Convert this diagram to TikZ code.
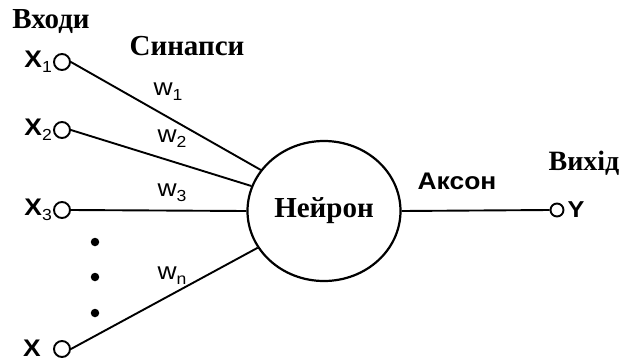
\documentclass[tikz,border=0pt]{standalone}
\usepackage{fontspec}
\usetikzlibrary{shapes.geometric}
\setmainfont{Liberation Serif}
\setsansfont{Liberation Sans}
\newcommand{\hs}[1]{\scalebox{1.1}[1]{#1}}
\newcommand{\lowsub}[1]{\raisebox{-0.4ex}{\mdseries\fontsize{16}{16}\selectfont #1}}
\begin{document}
\begin{tikzpicture}[x=1pt,y=-1pt,
  inport/.style={circle,draw,line width=1.9pt,minimum size=16pt,inner sep=0pt},
  outport/.style={circle,draw,line width=1.9pt,minimum size=13pt,inner sep=0pt},
  xlab/.style={anchor=east,font=\sffamily\bfseries\fontsize{24}{24}\selectfont,inner sep=1pt},
  wlab/.style={font=\sffamily\fontsize{24}{24}\selectfont,inner sep=0pt},
  title/.style={font=\bfseries\fontsize{29}{29}\selectfont,inner sep=0pt},
  wire/.style={line width=1.9pt},
  dotmark/.style={circle,fill,minimum size=8.5pt,inner sep=0pt}]
\useasboundingbox (0,0) rectangle (622,360);
\node[ellipse,draw,line width=2.2pt,minimum width=153pt,minimum height=140pt,inner sep=0pt,
  font=\bfseries\fontsize{29}{29}\selectfont] (n) at (324,211) {Нейрон};
\node[inport] (x1) at (62,62) {};
\node[inport] (x2) at (62,130) {};
\node[inport] (x3) at (62,210) {};
\node[inport] (xn) at (62,349) {};
\node[outport] (y) at (557,210) {};
\node[xlab] (lx1) at (x1.west) {\hs{X\lowsub{1}}};
\node[xlab] (lx2) at (x2.west) {\hs{X\lowsub{2}}};
\node[xlab] (lx3) at (x3.west) {\hs{X\lowsub{3}}};
\node[anchor=center,font=\sffamily\bfseries\fontsize{24}{24}\selectfont,inner sep=0pt] (lxn) at (32,348) {\hs{X}};
\node[anchor=west,font=\sffamily\bfseries\fontsize{23}{23}\selectfont,inner sep=3pt] (ly) at (y.east) {\hs{Y}};
\draw[wire] (x1.east) -- (n.147);
\draw[wire] (x2.east) -- (n.161);
\draw[wire] (x3.east) -- (n.180);
\draw[wire] (xn.east) -- (n.209);
\draw[wire] (n.east) -- (y.west);
\node[wlab] (w1) at (168,92) {\hs{w\lowsub{1}}};
\node[wlab] (w2) at (172,139) {\hs{w\lowsub{2}}};
\node[wlab] (w3) at (172,193) {\hs{w\lowsub{3}}};
\node[wlab] (wn) at (172,276) {\hs{w\lowsub{n}}};
\node[dotmark] (d1) at (95,242) {};
\node[dotmark] (d2) at (95,277) {};
\node[dotmark] (d3) at (95,313) {};
\node[title] (tin) at (51,22) {Входи};
\node[title] (tsyn) at (187,46) {Синапси};
\node[title,font=\bfseries\fontsize{28}{28}\selectfont] (tout) at (584,163) {Вихід};
\node[font=\sffamily\bfseries\fontsize{24}{24}\selectfont,inner sep=0pt] (tax) at (457,181) {\hs{Аксон}};
\end{tikzpicture}
\end{document}
